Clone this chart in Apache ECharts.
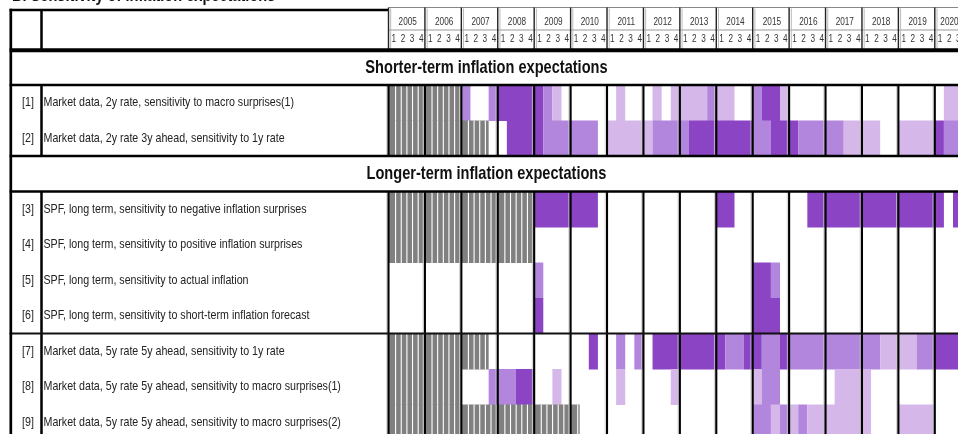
<!DOCTYPE html>
<html><head><meta charset="utf-8">
<script src="https://cdn.jsdelivr.net/npm/echarts@6/dist/echarts.min.js"></script>
<style>html,body{margin:0;padding:0;background:#fff}#c{width:958px;height:434px}</style>
</head><body><div id="c"></div>
<script>
// ---------------- data ----------------
const title = 'B. Sensitivity of inflation expectations';
const years = ['2005','2006','2007','2008','2009','2010','2011','2012','2013','2014','2015','2016','2017','2018','2019','2020'];
const quarterLabels = ['1','2','3','4'];
const sectionTitles = ['Shorter-term inflation expectations', 'Longer-term inflation expectations'];
const sectionRows = [0, 3];
const rowNums = ['', '[1]', '[2]', '', '[3]', '[4]', '[5]', '[6]', '[7]', '[8]', '[9]'];
const rowLabels = [
  '',
  'Market data, 2y rate, sensitivity to macro surprises(1)',
  'Market data, 2y rate 3y ahead, sensitivity to 1y rate',
  '',
  'SPF, long term, sensitivity to negative inflation surprises',
  'SPF, long term, sensitivity to positive inflation surprises',
  'SPF, long term, sensitivity to actual inflation',
  'SPF, long term, sensitivity to short-term inflation forecast',
  'Market data, 5y rate 5y ahead, sensitivity to 1y rate',
  'Market data, 5y rate 5y ahead, sensitivity to macro surprises(1)',
  'Market data, 5y rate 5y ahead, sensitivity to macro surprises(2)'
];
// quarterly codes 2005Q1..2020Q3: -1 = not available (hatched), 0 = none, 1 = low, 2 = medium, 3 = high
const row1 = [-1,-1,-1,-1, -1,-1,-1,-1, 2,0,0,2, 3,3,3,3, 3,2,1,0, 0,0,0,0, 0,1,0,0, 0,1,0,1,
              1,1,1,2, 1,1,0,0, 2,3,3,1, 0,0,0,0, 0,0,0,0, 0,0,0,0, 0,0,0,0, 0,1,1];
const row2 = [-1,-1,-1,-1, -1,-1,-1,-1, -1,-1,-1,0, 0,3,3,3, 3,2,2,2, 2,2,2,0, 1,1,1,1, 1,2,2,2,
              2,3,3,3, 3,3,3,3, 2,2,3,3, 3,2,2,2, 2,2,1,1, 1,1,0,0, 1,1,1,1, 3,2,2];
const row3 = [-1,-1,-1,-1, -1,-1,-1,-1, -1,-1,-1,-1, -1,-1,-1,-1, 3,3,3,3, 3,3,3,0, 0,0,0,0, 0,0,0,0,
              0,0,0,0, 3,3,0,0, 0,0,0,0, 0,0,3,3, 3,3,3,3, 3,3,3,3, 3,3,3,3, 3,0,3];
const row4 = [-1,-1,-1,-1, -1,-1,-1,-1, -1,-1,-1,-1, -1,-1,-1,-1, 0,0,0,0, 0,0,0,0, 0,0,0,0, 0,0,0,0,
              0,0,0,0, 0,0,0,0, 0,0,0,0, 0,0,0,0, 0,0,0,0, 0,0,0,0, 0,0,0,0, 0,0,0];
const row5 = [0,0,0,0, 0,0,0,0, 0,0,0,0, 0,0,0,0, 2,0,0,0, 0,0,0,0, 0,0,0,0, 0,0,0,0,
              0,0,0,0, 0,0,0,0, 3,3,2,0, 0,0,0,0, 0,0,0,0, 0,0,0,0, 0,0,0,0, 0,0,0];
const row6 = [0,0,0,0, 0,0,0,0, 0,0,0,0, 0,0,0,0, 3,0,0,0, 0,0,0,0, 0,0,0,0, 0,0,0,0,
              0,0,0,0, 0,0,0,0, 3,3,3,0, 0,0,0,0, 0,0,0,0, 0,0,0,0, 0,0,0,0, 0,0,0];
const row7 = [-1,-1,-1,-1, -1,-1,-1,-1, -1,-1,-1,0, 0,0,0,0, 0,0,0,0, 0,0,3,0, 0,2,0,2, 0,3,3,3,
              3,3,3,3, 3,2,2,3, 3,2,2,3, 2,2,2,2, 2,2,2,2, 2,2,1,1, 1,1,2,2, 3,3,3];
const row8 = [-1,-1,-1,-1, -1,-1,-1,-1, 0,0,0,2, 2,2,3,3, 0,0,1,0, 0,0,0,0, 0,1,0,0, 0,0,0,1,
              0,0,0,0, 0,0,0,0, 1,2,2,0, 0,0,0,0, 0,1,1,1, 1,0,0,0, 0,0,0,0, 0,0,0];
const row9 = [-1,-1,-1,-1, -1,-1,-1,-1, -1,-1,-1,-1, -1,-1,-1,-1, -1,-1,-1,-1, -1,0,0,0, 0,0,0,0, 0,0,0,0,
              0,0,0,0, 0,0,0,0, 2,2,1,2, 1,2,1,1, 1,1,1,1, 1,0,0,0, 1,1,1,1, 0,0,0];
const dataRows = [[1, row1], [2, row2], [4, row3], [5, row4], [6, row5], [7, row6], [8, row7], [9, row8], [10, row9]];
const N_Q = row1.length;

// ---------------- styles / layout ----------------
const FONT = "'Liberation Sans',Arial,sans-serif";
const NARROW = 0.82;
const COLORS = {'1': '#D5B8E9', '2': '#B286DC', '3': '#8B44C4', '-1': '#808080'};
const QW = 9.105;
const GRID_LEFT = 388.5, GRID_TOP = 49.5, ROW_H = 35.5;
const TABLE_LEFT = 10.8, NUM_COL_RIGHT = 41.5, NUM_X = 22, LABEL_X = 43.5;
const GROUP_BREAK = 8;

// runs of identical codes per row (each quarter drawn through the axes)
const cellData = [];
dataRows.forEach(([r, arr]) => {
  let q = 0;
  while (q < arr.length) {
    let e = q + 1;
    while (e < arr.length && arr[e] === arr[q]) e++;
    if (arr[q] !== 0) cellData.push([q, e, r, arr[q]]);
    q = e;
  }
});

function renderCell(params, api) {
  const qs = api.value(0), qe = api.value(1), r = api.value(2), code = api.value(3);
  const a = api.coord([qs, r]), b = api.coord([qe, r]);
  const sz = api.size([1, 1]);
  const qw = sz[0], rh = sz[1];
  const x0 = a[0], x1 = b[0], y0 = a[1] - rh / 2;
  const kids = [{type: 'rect', shape: {x: x0, y: y0, width: x1 - x0, height: rh + 0.5},
                 style: {fill: COLORS[String(code)], stroke: null, lineWidth: 0}}];
  if (code === -1) {
    const period = qw * 4 / 6.45;
    for (let yr = Math.floor(qs / 4); yr * 4 < qe; yr++) {
      const ys = api.coord([yr * 4, r])[0];
      for (let k = 1; k <= 6; k++) {
        const g = ys + 1.5 + k * period - 0.6;
        if (g >= x0 - 0.6 && g < x1 - 0.3) {
          kids.push({type: 'rect', shape: {x: g, y: y0, width: 1.1, height: rh + 0.5},
                     style: {fill: '#ffffff', stroke: null, lineWidth: 0}});
        }
      }
    }
  }
  return {type: 'group', children: kids};
}

function yearEnd(k) { return Math.min(4 * k, N_Q); }

function renderFrame(params, api) {
  const rh = api.size([1, 1])[1];
  const top = i => api.coord([0, i])[1] - rh / 2;
  const xq = q => api.coord([q, 0])[0];
  const W = xq(N_Q) + 1, H = api.getHeight();
  const kids = [];
  const hl = (x1, x2, y, w, c) => kids.push({type: 'line', shape: {x1, y1: y, x2, y2: y}, style: {stroke: c, lineWidth: w}});
  const vl = (x, y1, y2, w, c) => kids.push({type: 'line', shape: {x1: x, y1, x2: x, y2}, style: {stroke: c, lineWidth: w}});
  const gTop = top(0);
  const nR = rowLabels.length;
  // header
  const headTop = gTop - 39.5;
  hl(TABLE_LEFT - 1.2, xq(0), headTop, 2.7, '#000');
  hl(xq(0), W, gTop - 42, 1, '#888');
  hl(xq(0), W, gTop - 19.5, 1, '#999');
  vl(NUM_COL_RIGHT, headTop, gTop, 2.5, '#000');
  for (let k = 0; k <= years.length; k++) {
    const x = xq(yearEnd(k));
    vl(x, gTop - 42, gTop, 1.4, '#222');
    vl(x + 2.2, gTop - 41, gTop, 1, '#bbb');
  }
  // blocks of data rows (between section rows)
  const bounds = [];
  for (let s = 0; s < sectionRows.length; s++) {
    const b0 = sectionRows[s] + 1;
    const b1 = s + 1 < sectionRows.length ? sectionRows[s + 1] : nR;
    bounds.push([b0, b1]);
  }
  bounds.forEach(([b0, b1]) => {
    const y1 = top(b0), y2 = top(b1) + (b1 === nR ? 20 : 0);
    vl(NUM_COL_RIGHT, y1, y2, 2.5, '#000');
    for (let k = 0; k <= years.length; k++) {
      const x = xq(yearEnd(k));
      vl(x - 1.8, y1, y2, 0.8, '#c8c8c8');
      vl(x, y1, y2, 2.1, '#000');
    }
  });
  // horizontal rules
  hl(TABLE_LEFT - 1.2, W, gTop + 0.8, 4, '#000');
  sectionRows.forEach(r => { if (r > 0) hl(TABLE_LEFT - 1.2, W, top(r), 2.4, '#000'); hl(TABLE_LEFT - 1.2, W, top(r + 1), 2.4, '#000'); });
  hl(TABLE_LEFT - 1.2, W, top(GROUP_BREAK), 2.2, '#111');
  // outer borders
  vl(TABLE_LEFT, headTop - 1.3, H + 10, 2.7, '#000');
  vl(W, headTop - 1.3, H + 10, 2.7, '#000');
  return {type: 'group', children: kids};
}

function narrowText(x, y, text, font, align, fill) {
  return {type: 'text', x: x, y: y, scaleX: NARROW, scaleY: 1,
          style: {text: text, x: 0, y: 0, align: align, verticalAlign: 'middle', font: font, fill: fill}};
}

function renderHeader(params, api) {
  const i = api.value(0);
  const rh = api.size([1, 1])[1];
  const gTop = api.coord([0, 0])[1] - rh / 2;
  const nq = yearEnd(i + 1) - 4 * i;
  const xs = api.coord([4 * i, 0])[0], xe = api.coord([4 * i + nq, 0])[0];
  const qw = api.size([1, 1])[0];
  const kids = [narrowText((xs + xe) / 2 + 1, gTop - 27.5, years[i], '10px ' + FONT, 'center', '#333')];
  quarterLabels.slice(0, nq).forEach((ql, j) => kids.push(narrowText(xs + (j + 0.5) * qw + 0.8, gTop - 10.5, ql, '10px ' + FONT, 'center', '#333')));
  return {type: 'group', children: kids};
}

function renderRowLabel(params, api) {
  const r = api.value(0);
  const y = api.coord([0, r])[1];
  return {type: 'group', children: [
    narrowText(NUM_X, y, rowNums[r], '13px ' + FONT, 'left', '#222'),
    narrowText(LABEL_X, y, rowLabels[r], '13px ' + FONT, 'left', '#222')
  ]};
}

function renderSection(params, api) {
  const s = api.value(0);
  const y = api.coord([0, sectionRows[s]])[1];
  const cx = (TABLE_LEFT + api.coord([N_Q, 0])[0]) / 2;
  return narrowText(cx, y + 0.5, sectionTitles[s], 'bold 17.8px ' + FONT, 'center', '#111');
}

const chart = echarts.init(document.getElementById('c'), null, {renderer: 'canvas'});
chart.setOption({
  animation: false,
  backgroundColor: '#ffffff',
  graphic: [{type: 'text', x: 12, y: -4.2, scaleX: NARROW, silent: true,
             style: {text: title, x: 0, y: 0, verticalAlign: 'middle', font: 'bold 17.8px ' + FONT, fill: '#111'}}],
  grid: {left: GRID_LEFT, top: GRID_TOP, width: QW * N_Q, height: ROW_H * rowLabels.length,
         containLabel: false, outerBoundsMode: 'none'},
  xAxis: {type: 'value', min: 0, max: N_Q, show: false},
  yAxis: {type: 'category', inverse: true, data: rowLabels, show: false},
  series: [
    {type: 'custom', name: 'cells', clip: false, silent: true, z: 2, renderItem: renderCell, data: cellData},
    {type: 'custom', name: 'frame', clip: false, silent: true, z: 5, renderItem: renderFrame, data: [[0, 0]]},
    {type: 'custom', name: 'header', clip: false, silent: true, z: 6, renderItem: renderHeader, data: years.map((y, i) => [i])},
    {type: 'custom', name: 'rowLabels', clip: false, silent: true, z: 6, renderItem: renderRowLabel,
     data: rowLabels.map((l, i) => [i]).filter(d => rowLabels[d[0]] !== '')},
    {type: 'custom', name: 'sections', clip: false, silent: true, z: 6, renderItem: renderSection, data: sectionTitles.map((t, i) => [i])}
  ]
});
</script></body></html>
